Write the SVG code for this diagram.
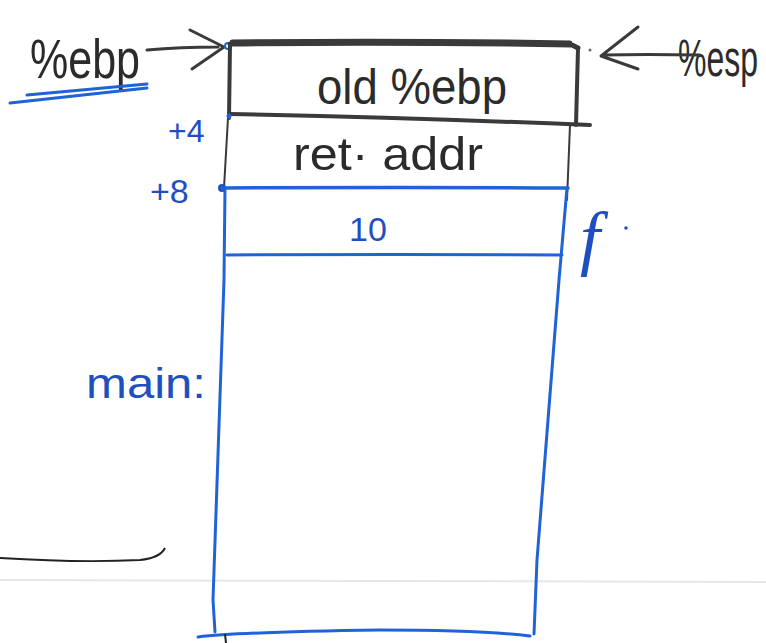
<svg xmlns="http://www.w3.org/2000/svg" width="766" height="643" viewBox="0 0 766 643">
<defs>
<style>
.ink{fill:none;stroke:#3a3a3a;stroke-linecap:round;stroke-linejoin:round}
.blue{fill:none;stroke:#1f63d6;stroke-linecap:round;stroke-linejoin:round}
.hw{font-family:"Liberation Sans","DejaVu Sans",sans-serif}
.tk{fill:#2b2b2b}
.tb{fill:#1f4fbf}
</style>
</defs>
<rect width="766" height="643" fill="#ffffff"/>
<line x1="0" y1="580" x2="766" y2="582" stroke="#e6e6e6" stroke-width="2"/>

<g id="label-ebp">
<text class="hw tk" x="30" y="78" font-size="56" textLength="110" lengthAdjust="spacingAndGlyphs">%ebp</text>
<path class="blue" stroke-width="3" d="M10 103 L147 88 M27 95 L147 84"/>
</g>

<g id="label-esp">
<text class="hw tk" font-size="32" transform="translate(678,76) scale(1,1.6)">%esp</text>
</g>

<g id="connectors">
<path class="ink" stroke-width="3" d="M147 50 Q180 47 218 47 M190 30 L224 47 L192 69"/>
<path class="ink" stroke-width="3" d="M603 55 Q645 54 700 55 M638 27 L601 56 L638 69"/>
<circle cx="228" cy="46" r="3" fill="none" stroke="#1f63d6" stroke-width="2"/>
<circle cx="590" cy="50" r="1.5" fill="#666"/>
</g>

<g id="slot-old-ebp">
<path class="ink" stroke-width="5" d="M230 44 Q400 42 572 45 L578 48 M232 42 Q400 40 570 43"/>
<path class="ink" stroke-width="4" d="M230 44 L229 118 M578 48 L576 125"/>
<path class="ink" stroke-width="4" d="M230 114 Q420 118 590 125"/>
<text class="hw tk" x="412" y="104" font-size="50" text-anchor="middle" textLength="190" lengthAdjust="spacingAndGlyphs">old %ebp</text>
</g>

<g id="slot-ret-addr">
<path class="ink" stroke-width="2" d="M228 118 L224 188 M570 125 L567 200"/>
<text class="hw tb" x="168" y="142" font-size="32">+4</text>
<circle cx="229" cy="116" r="2.5" fill="#1f63d6"/>
<text class="hw tk" x="388" y="170" font-size="46" text-anchor="middle" textLength="190" lengthAdjust="spacingAndGlyphs">ret· addr</text>
</g>

<g id="slot-arg-10">
<text class="hw tb" x="150" y="203" font-size="34">+8</text>
<circle cx="222" cy="188" r="4" fill="#1f4fbf"/>
<path class="blue" stroke-width="3.5" d="M222 188 Q400 187 568 188"/>
<path class="blue" stroke-width="3" d="M227 255 Q400 254 562 255"/>
<text class="hw tb" x="368" y="241" font-size="34" text-anchor="middle">10</text>
<text x="580" y="262" font-size="72" font-style="italic" fill="#1f4fbf" style="font-family:'Liberation Serif',serif">f</text>
<circle cx="626" cy="228" r="1.8" fill="#1f4fbf"/>
</g>

<g id="frame-main">
<path class="blue" stroke-width="3" d="M225 188 L224 280 L213 600 L215 632 M567 188 L559 280 L537 560 L534 634"/>
<path class="blue" stroke-width="3" d="M198 637 Q240 632 380 630 Q480 630 530 636"/>
<path d="M225 634 L226 643" stroke="#222" stroke-width="2"/>
<text class="hw tb" x="86" y="398" font-size="42" textLength="120" lengthAdjust="spacingAndGlyphs">main:</text>
</g>

<path d="M0 558 Q80 563 140 560 Q160 558 165 548" fill="none" stroke="#222" stroke-width="2"/>
</svg>
